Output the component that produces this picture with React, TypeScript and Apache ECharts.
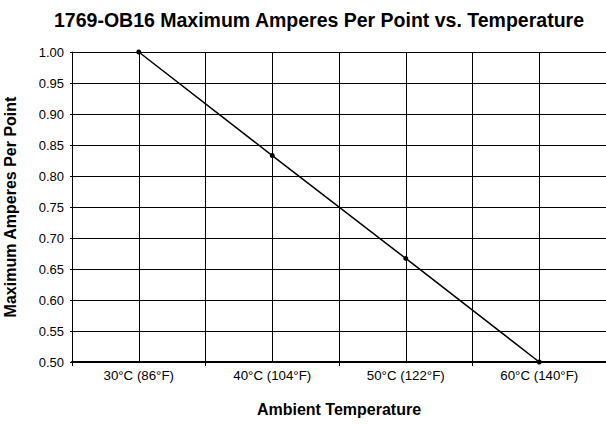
import React, { useEffect, useRef } from "react";
import * as echarts from "echarts";

const categories = ["30°C (86°F)", "40°C (104°F)", "50°C (122°F)", "60°C (140°F)"];
const amperes = [1.0, 0.833, 0.667, 0.5];
const yMin = 0.5;
const yMax = 1.0;
const yStep = 0.05;

const FONT = '"Liberation Sans Narrow", "Arial Narrow", "Liberation Sans", Arial, sans-serif';

export default function App() {
  const ref = useRef<HTMLDivElement>(null);
  useEffect(() => {
    if (!ref.current) return;
    const chart = echarts.init(ref.current, null, { renderer: "svg" });
    chart.setOption({
      animation: false,
      backgroundColor: "#ffffff",
      title: {
        text: "1769-OB16 Maximum Amperes Per Point vs. Temperature",
        left: 314,
        textAlign: "center",
        top: 5,
        textStyle: { fontFamily: FONT, fontWeight: "bold", fontSize: 19.5, color: "#000" },
      },
      grid: {
        left: 72,
        top: 52,
        right: 0,
        bottom: 62,
        containLabel: false,
        outerBoundsMode: "none",
      },
      xAxis: [
        {
          type: "category",
          data: categories,
          boundaryGap: true,
          axisLine: { show: true, lineStyle: { color: "#000", width: 2 } },
          axisTick: { show: true, length: 4, lineStyle: { color: "#000" } },
          axisLabel: { color: "#000", fontFamily: FONT, fontSize: 13.3, margin: 7 },
          splitLine: { show: true, interval: 0, lineStyle: { color: "#000", width: 1 } },
          name: "Ambient Temperature",
          nameLocation: "middle",
          nameGap: 39,
          nameTextStyle: { color: "#000", fontFamily: FONT, fontWeight: "bold", fontSize: 16 },
        },
        {
          type: "value",
          min: 0,
          max: 8,
          interval: 1,
          position: "bottom",
          axisLine: { show: false },
          axisTick: { show: false },
          axisLabel: { show: false },
          splitLine: { show: true, lineStyle: { color: "#000", width: 1 } },
        },
      ],
      yAxis: {
        type: "value",
        min: yMin,
        max: yMax,
        interval: yStep,
        axisLine: { show: true, lineStyle: { color: "#000", width: 1 } },
        axisTick: { show: true, length: 2, lineStyle: { color: "#000" } },
        axisLabel: {
          color: "#000",
          fontFamily: FONT,
          fontSize: 13,
          margin: 8,
          formatter: (v: number) => v.toFixed(2),
        },
        splitLine: { show: true, lineStyle: { color: "#000", width: 1 } },
        name: "Maximum Amperes Per Point",
        nameLocation: "middle",
        nameGap: 54,
        nameRotate: 90,
        nameTextStyle: { color: "#000", fontFamily: FONT, fontWeight: "bold", fontSize: 16 },
      },
      series: [
        {
          type: "line",
          xAxisIndex: 0,
          data: amperes,
          symbol: "circle",
          symbolSize: 5,
          itemStyle: { color: "#000" },
          lineStyle: { color: "#000", width: 1.5 },
          clip: false,
        },
      ],
    });
    return () => chart.dispose();
  }, []);
  return (
    <div
      ref={ref}
      style={{ position: "fixed", left: 0, top: 0, width: 606, height: 424, background: "#fff" }}
    />
  );
}
